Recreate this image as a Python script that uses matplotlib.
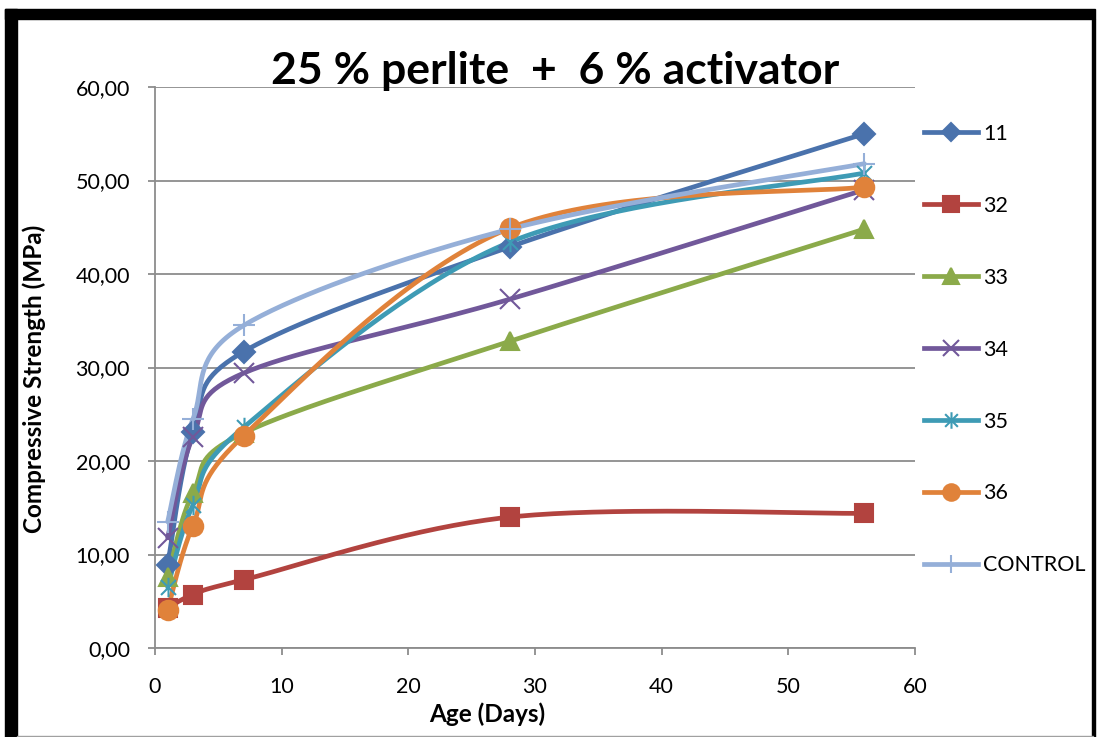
import numpy as np
import matplotlib.pyplot as plt
from matplotlib.path import Path
from matplotlib.patches import Rectangle

# curing ages and compressive strength per mix
age = [1, 3, 7, 28, 56]
s11 = [8.9, 23.1, 31.7, 42.9, 55.0]
s32 = [4.3, 5.7, 7.3, 14.0, 14.4]
s33 = [7.6, 16.6, 23.0, 32.8, 44.8]
s34 = [11.8, 22.6, 29.4, 37.3, 49.0]
s35 = [6.5, 15.3, 23.6, 43.4, 50.8]
s36 = [4.1, 13.1, 22.7, 44.9, 49.3]
control = [13.5, 24.5, 34.5, 44.8, 51.8]

labels = ['11', '32', '33', '34', '35', '36', 'CONTROL']
colors = ['#4A72AC', '#B2433F', '#8BAA4A', '#71589A', '#3E9BB5', '#E0823A', '#95AFD8']

# asterisk marker: an x with a vertical stroke through it
asterisk = Path([(-1, -1), (1, 1), (-1, 1), (1, -1), (0, -1.3), (0, 1.3)],
                [Path.MOVETO, Path.LINETO, Path.MOVETO, Path.LINETO, Path.MOVETO, Path.LINETO])
markers = ['D', 's', '^', 'x', asterisk, 'o', '+']
msizes = [11, 13, 13, 14, 14, 14, 16]


def smooth(x, y, n=40):
    # cubic bezier through the points, spreadsheet-style smoothing
    p = np.column_stack([x, y]).astype(float)
    ext = np.vstack([p[0], p, p[-1]])
    out = []
    t = np.linspace(0, 1, n)[:, None]
    for i in range(len(p) - 1):
        p0, p3 = p[i], p[i + 1]
        c1 = p0 + (ext[i + 2] - ext[i]) / 6
        c2 = p3 - (ext[i + 3] - ext[i + 1]) / 6
        seg = ((1 - t) ** 3) * p0 + 3 * ((1 - t) ** 2) * t * c1 + 3 * (1 - t) * t ** 2 * c2 + t ** 3 * p3
        out.append(seg if i == 0 else seg[1:])
    out = np.vstack(out)
    return out[:, 0], out[:, 1]


plt.rcParams['font.family'] = ['Lato', 'DejaVu Sans']

fig = plt.figure(figsize=(10.97, 7.37), dpi=100)
ax = fig.add_axes([155 / 1097, 1 - 648 / 737, 760 / 1097, 561 / 737])

series = [s11, s32, s33, s34, s35, s36, control]
for vals, lab, col, mk, ms in zip(series, labels, colors, markers, msizes):
    sx, sy = smooth(age, vals)
    ax.plot(sx, sy, color=col, lw=3.4, solid_capstyle='round', zorder=2)
    ax.plot(age, vals, linestyle='none', marker=mk, ms=ms, color=col,
            mec=col, mew=1.5, zorder=3)
    ax.plot([], [], color=col, lw=3.4, marker=mk, ms=ms * 0.85, mew=1.5, label=lab)

ax.set_xlim(0, 60)
ax.set_ylim(0, 60)
ax.set_xticks(range(0, 61, 10))
ax.set_yticks(range(0, 61, 10))
ax.set_yticklabels([f'{v:.2f}'.replace('.', ',') for v in range(0, 61, 10)])
ax.grid(axis='y', color='#8C8C8C', lw=1.3)
ax.set_axisbelow(True)
for side in ('top', 'right'):
    ax.spines[side].set_visible(False)
for side in ('left', 'bottom'):
    ax.spines[side].set_color('#8C8C8C')
    ax.spines[side].set_linewidth(1.3)
ax.tick_params(axis='both', direction='out', length=5, width=1.3, color='#8C8C8C',
               labelsize=15.5)
ax.tick_params(axis='y', pad=13)
ax.tick_params(axis='x', pad=16)

ax.set_xlabel('Age (Days)', fontsize=17.5, fontweight='bold')
ax.xaxis.set_label_coords(0.437, -0.097)
ax.set_ylabel('Compressive Strength (MPa)', fontsize=17.5, fontweight='bold')
ax.yaxis.set_label_coords(-0.143, 0.48)
fig.text(555 / 1097, 1 - 84 / 737, '25 % perlite  +  6 % activator', fontsize=32,
         fontweight='bold', ha='center', va='baseline')

fig.legend(loc='upper left', bbox_to_anchor=(924 / 1097, 1 - 124 / 737), frameon=False,
           fontsize=15.5, labelspacing=2.41, handlelength=2.5, handletextpad=0.25,
           borderaxespad=0, borderpad=0)

# chart frame
fig.patches.append(Rectangle((5 / 1097, 1 - 737 / 737), 12 / 1097, 728 / 737,
                             transform=fig.transFigure, color='black', zorder=0))
fig.patches.append(Rectangle((5 / 1097, 1 - 19 / 737), 1090 / 1097, 10 / 737,
                             transform=fig.transFigure, color='black', zorder=0))
fig.patches.append(Rectangle((1092 / 1097, 0), 2.5 / 1097, 718 / 737,
                             transform=fig.transFigure, color='black', zorder=0))
fig.patches.append(Rectangle((17 / 1097, 0), 1076 / 1097, 1.5 / 737,
                             transform=fig.transFigure, color='#A0A0A0', zorder=0))

fig.savefig('out.png', dpi=100)
